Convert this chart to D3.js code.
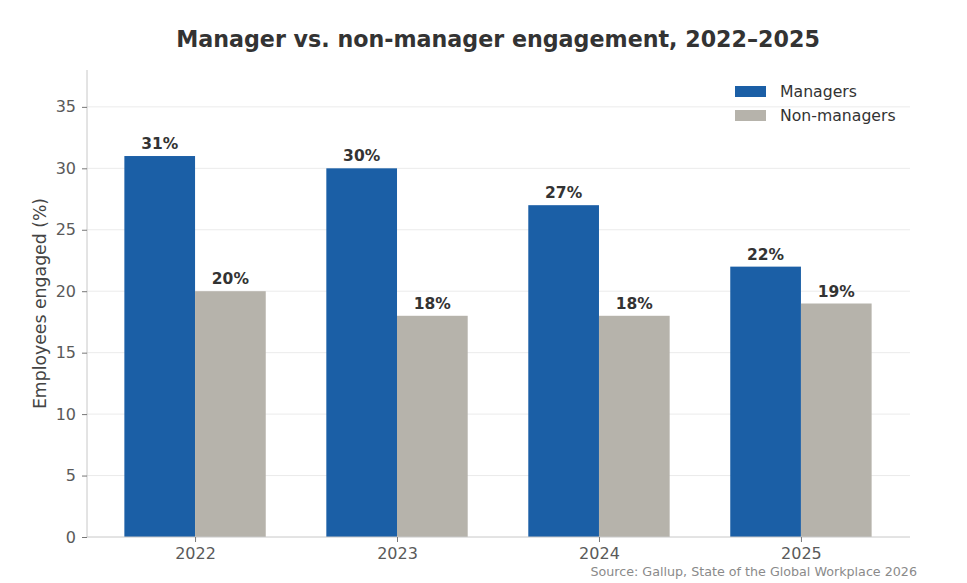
<!DOCTYPE html>
<html>
<head>
<meta charset="utf-8">
<script src="https://cdn.jsdelivr.net/npm/d3@7"></script>
<style>
  body { margin: 0; background: #fff; }
  text { font-family: "DejaVu Sans", sans-serif; }
</style>
</head>
<body>
<div class="chart"></div>
<script>
// data
var years = ["2022", "2023", "2024", "2025"];
var seriesNames = ["Managers", "Non-managers"];
var managers = [31, 30, 27, 22];
var nonManagers = [20, 18, 18, 19];
var yTicks = [0, 5, 10, 15, 20, 25, 30, 35];

var width = 967;
var height = 583;
var plotL = 87, plotR = 910, plotT = 70, plotB = 537;
var colors = ["#1b5fa6", "#b6b3ab"];

var svg = d3
  .select(".chart")
  .append("svg")
  .attr("width", width)
  .attr("height", height);

// scales
var x = d3.scaleLinear().domain([-0.535, years.length - 0.46]).range([plotL, plotR]);
var y = d3.scaleLinear().domain([0, 38]).range([plotB, plotT]);
var barW = x(0.35) - x(0);

// grid
svg
  .append("g")
  .selectAll("line")
  .data(yTicks.filter((d) => d > 0))
  .enter()
  .append("line")
  .attr("x1", plotL)
  .attr("x2", plotR)
  .attr("y1", (d) => y(d))
  .attr("y2", (d) => y(d))
  .attr("stroke", "#ebebeb")
  .attr("stroke-width", 1);

// bars
var series = [managers, nonManagers];
series.forEach(function (vals, s) {
  var g = svg.append("g");
  g.selectAll("rect")
    .data(vals)
    .enter()
    .append("rect")
    .attr("x", (d, i) => x(i) + (s === 0 ? -barW : 0))
    .attr("y", (d) => y(d))
    .attr("width", barW)
    .attr("height", (d) => y(0) - y(d))
    .attr("fill", colors[s]);

  g.selectAll("text")
    .data(vals)
    .enter()
    .append("text")
    .attr("x", (d, i) => x(i) + (s === 0 ? -barW / 2 : barW / 2))
    .attr("y", (d) => y(d) - 7)
    .attr("text-anchor", "middle")
    .attr("font-size", 15.5)
    .attr("font-weight", "bold")
    .attr("fill", "#333")
    .text((d) => d + "%");
});

// y axis
var yAxis = svg
  .append("g")
  .attr("transform", `translate(${plotL},0)`)
  .call(d3.axisLeft(y).tickValues(yTicks).tickSize(5).tickPadding(6));
yAxis.select(".domain").attr("stroke", "#c8c8c8").attr("d", `M0,${plotT}V${plotB}`);
yAxis.selectAll(".tick line").attr("stroke", "#777");
yAxis.selectAll(".tick text").attr("font-size", 16).attr("fill", "#5a5a5a").attr("font-family", "DejaVu Sans");

// x axis
var xAxis = svg
  .append("g")
  .attr("transform", `translate(0,${plotB})`)
  .call(
    d3.axisBottom(x)
      .tickValues(d3.range(years.length))
      .tickFormat((d) => years[d])
      .tickSize(5)
      .tickPadding(6)
  );
xAxis.select(".domain").attr("stroke", "#c8c8c8").attr("d", `M${plotL},0H${plotR}`);
xAxis.selectAll(".tick line").attr("stroke", "#777");
xAxis.selectAll(".tick text").attr("font-size", 16).attr("fill", "#5a5a5a").attr("font-family", "DejaVu Sans");

// y label
svg
  .append("text")
  .attr("transform", `translate(46,${(plotT + plotB) / 2}) rotate(-90)`)
  .attr("text-anchor", "middle")
  .attr("font-size", 17.3)
  .attr("fill", "#444")
  .text("Employees engaged (%)");

// title
svg
  .append("text")
  .attr("x", 498)
  .attr("y", 47)
  .attr("text-anchor", "middle")
  .attr("font-size", 22.2)
  .attr("font-weight", "bold")
  .attr("fill", "#333")
  .text("Manager vs. non-manager engagement, 2022\u20132025");

// legend
var legend = svg
  .append("g")
  .selectAll("g")
  .data(seriesNames)
  .enter()
  .append("g")
  .attr("transform", (d, i) => `translate(735,${86 + i * 24})`);
legend
  .append("rect")
  .attr("width", 31)
  .attr("height", 11)
  .attr("fill", (d, i) => colors[i]);
legend
  .append("text")
  .attr("x", 45)
  .attr("y", 11)
  .attr("font-size", 15.7)
  .attr("fill", "#333")
  .text((d) => d);

// source
svg
  .append("text")
  .attr("x", 917)
  .attr("y", 576)
  .attr("text-anchor", "end")
  .attr("font-size", 12.7)
  .attr("fill", "#8a8a8a")
  .text("Source: Gallup, State of the Global Workplace 2026");
</script>
</body>
</html>
